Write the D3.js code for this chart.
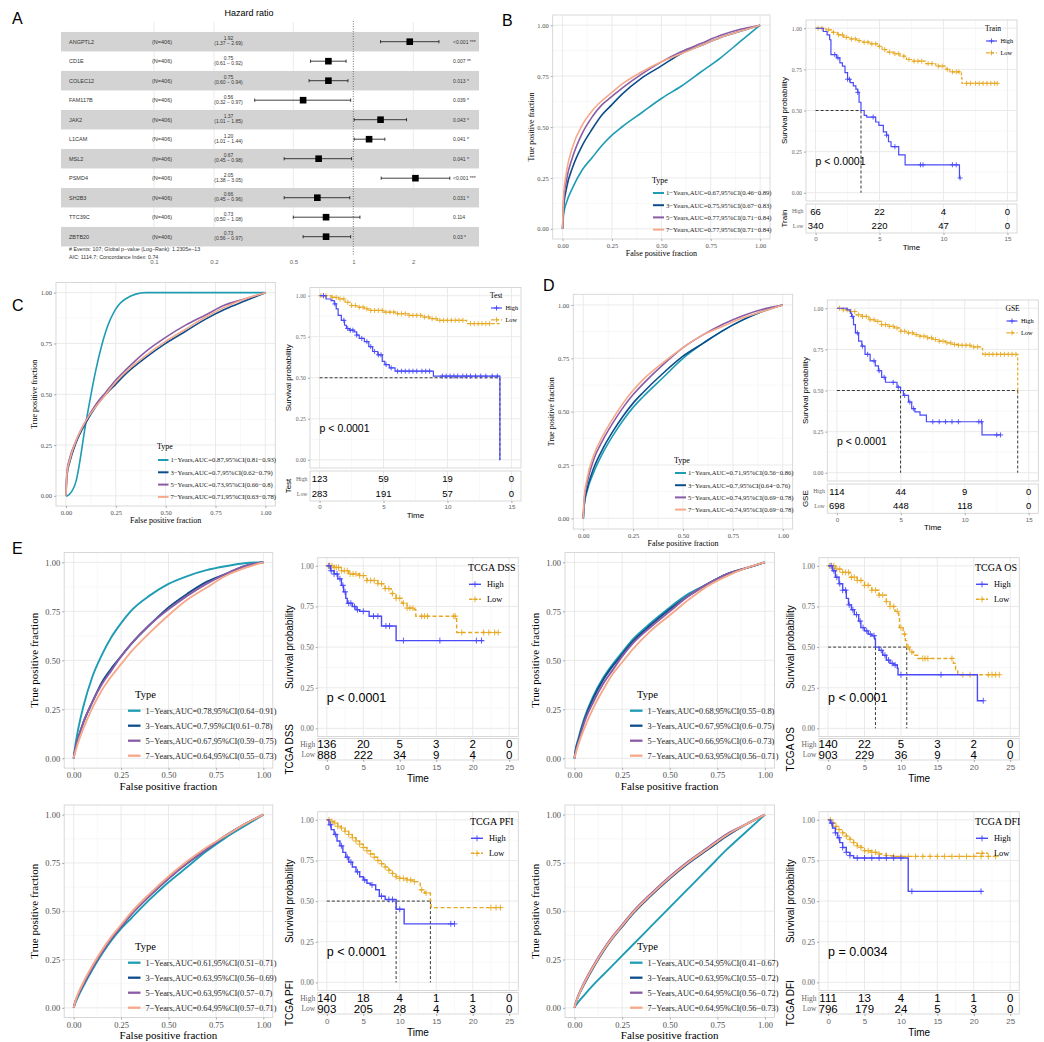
<!DOCTYPE html>
<html>
<head>
<meta charset="utf-8">
<script src="https://d3js.org/d3.v7.min.js"></script>
<style>
body { margin: 0; background: #fff; }
</style>
</head>
<body>
<script>
// ---------- A: multivariate cox forest ----------
var genes = ["ANGPTL2", "CD1E", "COLEC12", "FAM117B", "JAK2", "L1CAM", "MSL2", "PSMD4", "SH2B3", "TTC39C", "ZBTB20"];
var hr = [1.92, 0.75, 0.75, 0.56, 1.37, 1.20, 0.67, 2.05, 0.66, 0.73, 0.73];
var hrLow = [1.37, 0.61, 0.60, 0.32, 1.01, 1.01, 0.45, 1.38, 0.45, 0.50, 0.56];
var hrHigh = [2.69, 0.92, 0.94, 0.97, 1.85, 1.44, 0.98, 3.05, 0.96, 1.08, 0.97];
var hrP = ["<0.001 ***", "0.007 **", "0.013 *", "0.039 *", "0.043 *", "0.041 *", "0.041 *", "<0.001 ***", "0.031 *", "0.114", "0.03 *"];
var hrTicks = [0.1, 0.2, 0.5, 1, 2];
var forestNote = ["# Events: 107; Global p\u2212value (Log\u2212Rank): 1.2305e\u221213", "AIC: 1114.7; Concordance Index: 0.74"];

// ---------- ROC curves ----------
var rocYears = ["1\u2212Years", "3\u2212Years", "5\u2212Years", "7\u2212Years"];
var rocColors = ["#1d9cb3", "#0e4d8c", "#8b5ca6", "#f6a98a"];
var rocFpr = [0, 0.005, 0.02, 0.05, 0.1, 0.15, 0.2, 0.25, 0.3, 0.4, 0.5, 0.6, 0.7, 0.8, 0.9, 1];

var rocTrainTpr = [
    [0, 0.07, 0.13, 0.2, 0.29, 0.35, 0.41, 0.46, 0.5, 0.57, 0.64, 0.7, 0.77, 0.84, 0.92, 1],
    [0, 0.1, 0.2, 0.3, 0.41, 0.49, 0.56, 0.61, 0.66, 0.74, 0.8, 0.86, 0.9, 0.94, 0.97, 1],
    [0, 0.13, 0.24, 0.35, 0.47, 0.55, 0.61, 0.65, 0.69, 0.76, 0.82, 0.87, 0.91, 0.95, 0.98, 1],
    [0, 0.16, 0.28, 0.4, 0.51, 0.58, 0.63, 0.67, 0.71, 0.77, 0.82, 0.86, 0.9, 0.94, 0.97, 1]];
var rocTrainAuc = ["0.67", "0.75", "0.77", "0.77"];
var rocTrainCi = ["0.46\u22120.89", "0.67\u22120.83", "0.71\u22120.84", "0.71\u22120.84"];

var rocTestTpr = [
    [0, 0, 0.01, 0.07, 0.36, 0.62, 0.81, 0.92, 0.97, 1, 1, 1, 1, 1, 1, 1],
    [0, 0.1, 0.17, 0.26, 0.36, 0.44, 0.5, 0.55, 0.6, 0.68, 0.75, 0.81, 0.87, 0.92, 0.96, 1],
    [0, 0.12, 0.19, 0.27, 0.37, 0.45, 0.51, 0.57, 0.62, 0.71, 0.78, 0.84, 0.89, 0.94, 0.97, 1],
    [0, 0.11, 0.18, 0.27, 0.37, 0.44, 0.5, 0.56, 0.61, 0.69, 0.76, 0.82, 0.88, 0.93, 0.97, 1]];
var rocTestAuc = ["0.87", "0.7", "0.73", "0.71"];
var rocTestCi = ["0.81\u22120.93", "0.62\u22120.79", "0.66\u22120.8", "0.63\u22120.78"];

var rocGseTpr = [
    [0, 0.06, 0.13, 0.21, 0.31, 0.39, 0.46, 0.52, 0.57, 0.66, 0.75, 0.82, 0.88, 0.93, 0.97, 1],
    [0, 0.07, 0.14, 0.23, 0.33, 0.41, 0.48, 0.54, 0.59, 0.68, 0.76, 0.82, 0.88, 0.93, 0.97, 1],
    [0, 0.09, 0.17, 0.27, 0.37, 0.45, 0.52, 0.58, 0.63, 0.72, 0.8, 0.86, 0.91, 0.95, 0.98, 1],
    [0, 0.1, 0.19, 0.29, 0.39, 0.47, 0.54, 0.6, 0.65, 0.73, 0.8, 0.86, 0.9, 0.94, 0.97, 1]];
var rocGseAuc = ["0.71", "0.7", "0.74", "0.74"];
var rocGseCi = ["0.56\u22120.86", "0.64\u22120.76", "0.69\u22120.78", "0.69\u22120.78"];

var rocDssTpr = [
    [0, 0.04, 0.13, 0.26, 0.42, 0.53, 0.62, 0.69, 0.75, 0.83, 0.89, 0.93, 0.96, 0.98, 0.995, 1],
    [0, 0.03, 0.09, 0.18, 0.29, 0.39, 0.46, 0.52, 0.58, 0.68, 0.77, 0.84, 0.9, 0.94, 0.98, 1],
    [0, 0.03, 0.09, 0.18, 0.29, 0.38, 0.45, 0.52, 0.58, 0.68, 0.76, 0.83, 0.89, 0.94, 0.98, 1],
    [0, 0.02, 0.07, 0.15, 0.26, 0.35, 0.42, 0.48, 0.54, 0.64, 0.73, 0.81, 0.87, 0.93, 0.97, 1]];
var rocDssAuc = ["0.78", "0.7", "0.67", "0.64"];
var rocDssCi = ["0.64\u22120.91", "0.61\u22120.78", "0.59\u22120.75", "0.55\u22120.73"];

var rocOsTpr = [
    [0, 0.04, 0.1, 0.2, 0.32, 0.41, 0.48, 0.54, 0.6, 0.69, 0.77, 0.84, 0.89, 0.94, 0.97, 1],
    [0, 0.035, 0.09, 0.19, 0.31, 0.4, 0.47, 0.53, 0.59, 0.68, 0.76, 0.83, 0.89, 0.94, 0.97, 1],
    [0, 0.03, 0.08, 0.18, 0.29, 0.38, 0.45, 0.52, 0.58, 0.67, 0.75, 0.83, 0.89, 0.94, 0.97, 1],
    [0, 0.02, 0.07, 0.15, 0.26, 0.35, 0.43, 0.49, 0.55, 0.65, 0.73, 0.81, 0.88, 0.93, 0.97, 1]];
var rocOsAuc = ["0.68", "0.67", "0.66", "0.63"];
var rocOsCi = ["0.55\u22120.8", "0.6\u22120.75", "0.6\u22120.73", "0.56\u22120.71"];

var rocPfiTpr = [
    [0, 0.015, 0.05, 0.11, 0.2, 0.28, 0.35, 0.41, 0.46, 0.56, 0.65, 0.73, 0.81, 0.88, 0.94, 1],
    [0, 0.02, 0.06, 0.12, 0.21, 0.29, 0.36, 0.42, 0.48, 0.58, 0.67, 0.75, 0.82, 0.89, 0.95, 1],
    [0, 0.02, 0.06, 0.12, 0.21, 0.29, 0.36, 0.42, 0.48, 0.58, 0.67, 0.75, 0.82, 0.89, 0.95, 1],
    [0, 0.02, 0.065, 0.13, 0.22, 0.3, 0.37, 0.43, 0.49, 0.59, 0.68, 0.76, 0.83, 0.89, 0.95, 1]];
var rocPfiAuc = ["0.61", "0.63", "0.63", "0.64"];
var rocPfiCi = ["0.51\u22120.71", "0.56\u22120.69", "0.57\u22120.7", "0.57\u22120.71"];

var rocDfiTpr = [
    [0, 0.01, 0.03, 0.065, 0.12, 0.17, 0.22, 0.27, 0.32, 0.42, 0.52, 0.62, 0.72, 0.82, 0.91, 1],
    [0, 0.02, 0.06, 0.12, 0.21, 0.29, 0.36, 0.42, 0.48, 0.58, 0.67, 0.75, 0.82, 0.89, 0.95, 1],
    [0, 0.02, 0.065, 0.13, 0.22, 0.3, 0.37, 0.43, 0.49, 0.59, 0.68, 0.76, 0.83, 0.9, 0.95, 1],
    [0, 0.02, 0.06, 0.125, 0.215, 0.295, 0.365, 0.425, 0.485, 0.585, 0.675, 0.755, 0.825, 0.895, 0.95, 1]];
var rocDfiAuc = ["0.54", "0.63", "0.64", "0.64"];
var rocDfiCi = ["0.41\u22120.67", "0.55\u22120.72", "0.56\u22120.72", "0.56\u22120.73"];

// ---------- Kaplan-Meier curves: [time, survival from that time on] ----------
var kmColors = ["#4a4af8", "#e6a823"];

var trainHigh = [[0, 1], [0.6, 0.98], [0.9, 0.96], [1.1, 0.93], [1.2, 0.84], [1.65, 0.82], [1.9, 0.79], [2.1, 0.77], [2.3, 0.73], [2.5, 0.69], [2.7, 0.67], [2.95, 0.65], [3.15, 0.63], [3.3, 0.61], [3.4, 0.55], [3.55, 0.5], [3.8, 0.47], [4.0, 0.46], [4.7, 0.43], [4.95, 0.41], [5.3, 0.37], [5.55, 0.35], [5.7, 0.31], [5.9, 0.28], [6.5, 0.23], [7.0, 0.17], [11.25, 0.09], [11.3, 0.09]];
var trainLow = [[0, 1], [0.8, 0.99], [1.3, 0.975], [1.7, 0.96], [2.2, 0.945], [2.7, 0.935], [3.2, 0.925], [3.7, 0.915], [4.3, 0.905], [4.9, 0.89], [5.2, 0.87], [5.6, 0.855], [6.1, 0.845], [6.6, 0.83], [7.1, 0.81], [7.6, 0.8], [8.6, 0.785], [9.4, 0.77], [10.2, 0.75], [10.5, 0.735], [11.4, 0.7], [11.45, 0.665], [14.2, 0.665]];
var trainCensHigh = [1.5, 1.75, 2.5, 2.65, 3.3, 4.5, 5.55, 6.2, 8.2, 8.4, 10.7, 11.0, 11.3];
var trainCensLow = [0.2, 0.5, 1.0, 1.4, 1.8, 2.1, 2.4, 2.8, 3.1, 3.4, 3.8, 4.1, 4.4, 4.7, 5.0, 5.4, 5.8, 6.2, 6.5, 6.9, 7.3, 7.7, 8.0, 8.3, 8.8, 9.1, 9.6, 9.9, 10.3, 10.7, 11.0, 11.2, 11.8, 12.1, 12.5, 12.8, 13.1, 13.4, 13.7, 14.0, 14.2];
var trainRiskHigh = [66, 22, 4, 0];
var trainRiskLow = [340, 220, 47, 0];

var testHigh = [[0, 1], [0.5, 0.98], [0.9, 0.97], [1.15, 0.95], [1.3, 0.92], [1.45, 0.88], [1.7, 0.85], [1.95, 0.82], [2.1, 0.8], [2.35, 0.79], [2.7, 0.78], [2.9, 0.76], [3.1, 0.74], [3.5, 0.72], [3.85, 0.69], [4.15, 0.66], [4.55, 0.64], [4.9, 0.6], [5.1, 0.58], [5.45, 0.56], [5.9, 0.54], [8.9, 0.51], [14.1, 0], [14.12, 0]];
var testLow = [[0, 1], [0.9, 0.99], [1.5, 0.98], [2, 0.96], [2.5, 0.94], [3, 0.93], [3.5, 0.92], [4, 0.91], [5, 0.9], [6, 0.89], [7, 0.88], [8, 0.87], [8.6, 0.86], [9.2, 0.85], [11.5, 0.83], [14.1, 0.83]];
var testCensHigh = [0.3, 1.2, 1.9, 2.2, 2.4, 2.6, 2.9, 3.3, 3.7, 4.0, 4.3, 4.6, 4.8, 5.2, 5.6, 6.1, 6.4, 6.7, 7.0, 7.3, 7.6, 8.0, 8.3, 8.6, 9.6, 9.9, 10.2, 10.5, 10.8, 11.2, 11.5, 11.8, 12.2, 12.6, 13.0, 13.5, 13.9];
var testCensLow = [0.1, 0.3, 0.5, 1.0, 1.3, 1.6, 1.9, 2.2, 2.5, 2.8, 3.1, 3.4, 3.7, 4.0, 4.3, 4.6, 4.9, 5.2, 5.5, 5.8, 6.1, 6.4, 6.7, 7.0, 7.3, 7.6, 7.9, 8.2, 8.5, 8.8, 9.1, 9.4, 9.7, 10.0, 10.3, 10.6, 10.9, 11.2, 11.8, 12.1, 12.4, 12.7, 13.0, 13.3];
var testRiskHigh = [123, 59, 19, 0];
var testRiskLow = [283, 191, 57, 0];

var gseHigh = [[0, 1], [0.8, 0.99], [1.05, 0.97], [1.15, 0.95], [1.3, 0.9], [1.45, 0.85], [1.7, 0.8], [1.95, 0.77], [2.2, 0.72], [2.6, 0.68], [3.0, 0.65], [3.25, 0.62], [3.5, 0.58], [3.8, 0.55], [4.7, 0.52], [4.98, 0.5], [5.2, 0.47], [5.6, 0.43], [5.85, 0.39], [6.1, 0.37], [6.5, 0.35], [7.0, 0.31], [11.35, 0.23], [12.8, 0.23]];
var gseLow = [[0, 1], [0.5, 0.99], [1, 0.98], [1.5, 0.96], [2, 0.95], [2.5, 0.93], [3, 0.92], [3.5, 0.9], [4, 0.89], [4.5, 0.88], [5, 0.86], [5.5, 0.85], [6, 0.84], [6.5, 0.83], [7, 0.82], [7.5, 0.81], [8, 0.8], [8.5, 0.79], [9, 0.78], [9.5, 0.775], [10.5, 0.765], [11.3, 0.755], [11.4, 0.72], [14.14, 0.485], [14.2, 0.485]];
var gseCensHigh = [1.2, 1.6, 2.0, 2.4, 2.9, 3.3, 3.7, 4.4, 4.8, 5.3, 5.7, 6.0, 7.5, 8.0, 8.5, 9.0, 9.5, 11.1, 11.3, 12.5, 12.8];
var gseCensLow = [0.2, 0.5, 0.8, 1.1, 1.4, 1.7, 2.0, 2.3, 2.6, 2.9, 3.2, 3.5, 3.8, 4.1, 4.4, 4.7, 5.0, 5.3, 5.6, 5.9, 6.2, 6.5, 6.8, 7.1, 7.4, 7.7, 8.0, 8.3, 8.6, 8.9, 9.2, 9.5, 9.8, 10.1, 10.4, 10.7, 11.0, 11.6, 11.9, 12.2, 12.5, 12.8, 13.1, 13.4, 13.7, 14.0];
var gseRiskHigh = [114, 44, 9, 0];
var gseRiskLow = [698, 448, 118, 0];

var dssHigh = [[0, 1], [0.5, 0.97], [1, 0.95], [1.5, 0.92], [2, 0.88], [2.3, 0.84], [2.6, 0.8], [2.8, 0.77], [3.5, 0.75], [4, 0.73], [4.5, 0.72], [5.8, 0.69], [7.5, 0.63], [9.5, 0.54], [21.5, 0.54]];
var dssLow = [[0, 1], [1, 0.99], [2, 0.97], [3, 0.95], [4.5, 0.94], [5.5, 0.91], [7, 0.89], [8, 0.86], [8.8, 0.83], [9.5, 0.8], [10.3, 0.77], [11, 0.74], [12, 0.73], [12.2, 0.69], [17.8, 0.59], [23.5, 0.59]];
var dssCensHigh = [0.3, 0.6, 1.0, 1.4, 1.8, 2.2, 2.5, 3.0, 3.3, 3.8, 4.2, 5.0, 6.4, 7.0, 8.1, 8.6, 10.5, 15.5, 20.5, 21.2];
var dssCensLow = [0.2, 0.4, 0.7, 1.0, 1.3, 1.6, 2.0, 2.4, 2.8, 3.2, 3.6, 4.0, 4.5, 5.0, 5.5, 6.0, 6.5, 7.0, 7.5, 8.0, 8.5, 9.0, 9.5, 10.0, 10.5, 11.0, 11.4, 11.8, 13.0, 13.4, 13.8, 17.4, 17.6, 18.5, 21.5, 22.2, 23.0, 23.5];
var dssRiskHigh = [136, 20, 5, 3, 2, 0];
var dssRiskLow = [888, 222, 34, 9, 4, 0];

var osHigh = [[0, 1], [0.6, 0.97], [1, 0.93], [1.5, 0.89], [2, 0.85], [2.5, 0.8], [2.8, 0.76], [3.2, 0.73], [3.6, 0.7], [4.2, 0.66], [4.5, 0.62], [5, 0.6], [5.5, 0.58], [6, 0.57], [6.4, 0.55], [6.5, 0.5], [7, 0.48], [7.5, 0.45], [8, 0.42], [8.5, 0.4], [9, 0.39], [9.5, 0.37], [9.6, 0.33], [20.5, 0.17], [21.3, 0.17]];
var osLow = [[0, 1], [1, 0.98], [2, 0.96], [3, 0.93], [4, 0.91], [5, 0.88], [6, 0.85], [7, 0.82], [8, 0.78], [8.5, 0.75], [9.2, 0.72], [9.7, 0.69], [9.8, 0.62], [10.3, 0.58], [10.6, 0.54], [10.8, 0.5], [11.2, 0.47], [11.7, 0.45], [12.3, 0.43], [17.2, 0.4], [17.5, 0.36], [17.8, 0.33], [23.5, 0.33]];
var osCensHigh = [0.4, 0.8, 1.2, 1.6, 2.0, 2.4, 2.9, 3.4, 3.9, 4.4, 4.8, 5.3, 5.8, 6.3, 7.3, 7.8, 8.3, 8.8, 9.2, 10.0, 15.5, 21.3];
var osCensLow = [0.2, 0.5, 0.8, 1.2, 1.6, 2.0, 2.4, 2.8, 3.2, 3.6, 4.0, 4.5, 5.0, 5.5, 6.0, 6.5, 7.0, 7.5, 8.0, 8.5, 9.0, 9.5, 10.0, 10.5, 11.0, 11.5, 13.0, 13.3, 13.7, 17.0, 18.5, 19.5, 22.0, 22.5, 23.0, 23.5];
var osRiskHigh = [140, 22, 5, 3, 2, 0];
var osRiskLow = [903, 229, 36, 9, 4, 0];

var pfiHigh = [[0, 1], [0.3, 0.97], [0.6, 0.94], [1, 0.91], [1.4, 0.87], [1.8, 0.84], [2.2, 0.8], [2.6, 0.77], [3, 0.74], [3.5, 0.71], [4, 0.68], [4.5, 0.65], [5, 0.63], [5.5, 0.61], [6, 0.6], [6.7, 0.57], [7.2, 0.53], [8, 0.51], [9.5, 0.45], [10.6, 0.36], [17.5, 0.36]];
var pfiLow = [[0, 1], [0.5, 0.99], [1, 0.98], [1.5, 0.96], [2, 0.95], [2.5, 0.93], [3, 0.91], [3.5, 0.89], [4, 0.87], [4.5, 0.85], [5, 0.83], [5.5, 0.81], [6, 0.79], [6.5, 0.77], [7, 0.75], [7.5, 0.73], [8, 0.71], [8.5, 0.69], [9, 0.67], [9.5, 0.65], [10, 0.64], [11, 0.63], [12, 0.62], [12.8, 0.57], [13.4, 0.55], [14.2, 0.5], [14.3, 0.46], [23.8, 0.46]];
var pfiCensHigh = [0.5, 1.2, 2.0, 2.8, 3.3, 4.2, 5.2, 6.2, 7.5, 8.5, 9.0, 10.0, 17.0, 17.5];
var pfiCensLow = [0.3, 0.7, 1.1, 1.5, 2.0, 2.5, 3.0, 3.5, 4.0, 4.5, 5.0, 5.5, 6.0, 6.5, 7.0, 7.5, 8.0, 8.5, 9.0, 9.5, 10.0, 10.5, 11.0, 11.5, 12.0, 13.0, 13.6, 22.5, 23.2, 23.8];
var pfiRiskHigh = [140, 18, 4, 1, 1, 0];
var pfiRiskLow = [903, 205, 28, 4, 3, 0];

var dfiHigh = [[0, 1], [0.3, 0.98], [0.6, 0.95], [1, 0.92], [1.3, 0.89], [1.6, 0.86], [2, 0.83], [2.5, 0.8], [3, 0.78], [3.5, 0.765], [11.0, 0.56], [21.2, 0.56]];
var dfiLow = [[0, 1], [0.5, 0.98], [1, 0.96], [1.5, 0.94], [2, 0.92], [2.5, 0.9], [3, 0.88], [3.5, 0.86], [4, 0.84], [4.5, 0.83], [5, 0.81], [6, 0.8], [7, 0.79], [8, 0.78], [9, 0.775], [23, 0.775]];
var dfiCensHigh = [0.5, 1.0, 1.5, 2.0, 2.5, 3.0, 4.0, 5.0, 6.0, 7.0, 8.0, 9.0, 10.0, 11.5, 21.0];
var dfiCensLow = [0.3, 0.7, 1.1, 1.5, 2.0, 2.5, 3.0, 3.5, 4.0, 4.5, 5.0, 5.5, 6.0, 6.5, 7.0, 8.0, 9.0, 10.0, 11.0, 12.0, 13.0, 14.0, 15.0, 16.0, 17.0, 18.0, 19.0, 20.0, 21.0, 22.0, 23.0];
var dfiRiskHigh = [111, 13, 4, 1, 1, 0];
var dfiRiskLow = [796, 179, 24, 5, 3, 0];

var SANS = "'Liberation Sans', Arial, sans-serif";
var SERIF = "'Liberation Serif', 'Times New Roman', serif";

var svg = d3.select("body").append("svg")
    .attr("width", 1044)
    .attr("height", 1042)
    .style("background", "#fff");

//Panel letters
[["A", 12, 24], ["B", 502, 26], ["C", 12, 311], ["D", 543, 291], ["E", 12, 554]].forEach(function (d) {
    svg.append("text").attr("x", d[1]).attr("y", d[2])
        .style("font-family", SANS).style("font-size", "16px").text(d[0]);
});

//Forest plot
function drawForest() {
    var g = svg.append("g");
    var rowY = d3.scaleLinear().domain([0, genes.length - 1]).range([41.7, 236.7]);
    var xHR = d3.scaleLog().domain([0.1, 1]).range([154, 353.3]);
    var band = rowY(1) - rowY(0);

    g.append("text").attr("x", 249).attr("y", 16).attr("text-anchor", "middle")
        .style("font-family", SANS).style("font-size", "9px").text("Hazard ratio");

    //grid lines
    hrTicks.filter(function (d) { return d != 1; }).forEach(function (t) {
        g.append("line").attr("x1", xHR(t)).attr("x2", xHR(t)).attr("y1", 22).attr("y2", 246)
            .attr("stroke", "#e6e6e6").attr("stroke-width", 0.8);
    });

    //alternating bands
    genes.forEach(function (d, i) {
        if (i % 2 == 0) {
            g.append("rect").attr("x", 61).attr("width", 418)
                .attr("y", rowY(i) - band / 2).attr("height", band)
                .attr("fill", "#d3d3d3");
        }
    });

    g.append("line").attr("x1", xHR(1)).attr("x2", xHR(1)).attr("y1", 21).attr("y2", 255)
        .attr("stroke", "#555").attr("stroke-width", 0.8).attr("stroke-dasharray", "1,1.5");

    genes.forEach(function (d, i) {
        var y = rowY(i);
        g.append("text").attr("x", 69).attr("y", y + 2).style("font-family", SANS).style("font-size", "5.5px").attr("fill", "#333").text(d);
        g.append("text").attr("x", 152).attr("y", y + 2).style("font-family", SANS).style("font-size", "5.5px").attr("fill", "#333").text("(N=406)");
        g.append("text").attr("x", 228.5).attr("y", y - 1.6).attr("text-anchor", "middle").style("font-family", SANS).style("font-size", "5px").attr("fill", "#333").text(hr[i].toFixed(2));
        g.append("text").attr("x", 228.5).attr("y", y + 3.6).attr("text-anchor", "middle").style("font-family", SANS).style("font-size", "5px").attr("fill", "#333")
            .text("(" + hrLow[i].toFixed(2) + " \u2212 " + hrHigh[i].toFixed(2) + ")");
        //CI whisker
        g.append("line").attr("x1", xHR(hrLow[i])).attr("x2", xHR(hrHigh[i])).attr("y1", y).attr("y2", y).attr("stroke", "#111").attr("stroke-width", 0.8);
        [hrLow[i], hrHigh[i]].forEach(function (v) {
            g.append("line").attr("x1", xHR(v)).attr("x2", xHR(v)).attr("y1", y - 1.6).attr("y2", y + 1.6).attr("stroke", "#111").attr("stroke-width", 0.8);
        });
        g.append("rect").attr("x", xHR(hr[i]) - 3.3).attr("y", y - 3.3).attr("width", 6.6).attr("height", 6.6).attr("fill", "#000");
        g.append("text").attr("x", 453).attr("y", y + 2).style("font-family", SANS).style("font-size", "5px").attr("fill", "#333").text(hrP[i]);
    });

    forestNote.forEach(function (t, i) {
        g.append("text").attr("x", 69).attr("y", 251 + i * 7.5).style("font-family", SANS).style("font-size", "5.3px").attr("fill", "#333").text(t);
    });

    //axis
    var ax = g.append("g").attr("transform", "translate(0,257)")
        .call(d3.axisBottom(xHR).tickValues(hrTicks).tickSize(0).tickFormat(d3.format("")));
    ax.select(".domain").remove();
    ax.selectAll("text").style("font-family", SANS).style("font-size", "6px").attr("fill", "#666");
}

//ROC panel
function drawROC(o) {
    var big = o.big;
    var fs = big ? { tick: 8.5, title: 11, legT: 10.5, leg: 8.3, lw: 1.9 } : { tick: 6.5, title: 8, legT: 8, leg: 6.7, lw: 1.6 };
    var l = o.box[0], t = o.box[1], r = o.box[2], b = o.box[3];
    var x = d3.scaleLinear().domain([-0.05, 1.05]).range([l, r]);
    var y = d3.scaleLinear().domain([-0.05, 1.05]).range([b, t]);
    var g = svg.append("g");
    var major = [0, 0.25, 0.5, 0.75, 1], minor = [0.125, 0.375, 0.625, 0.875];

    g.append("rect").attr("x", l).attr("y", t).attr("width", r - l).attr("height", b - t).attr("fill", "#fff");
    minor.forEach(function (v) {
        g.append("line").attr("x1", x(v)).attr("x2", x(v)).attr("y1", t).attr("y2", b).attr("stroke", "#f3f3f3").attr("stroke-width", 0.6);
        g.append("line").attr("y1", y(v)).attr("y2", y(v)).attr("x1", l).attr("x2", r).attr("stroke", "#f3f3f3").attr("stroke-width", 0.6);
    });
    major.forEach(function (v) {
        g.append("line").attr("x1", x(v)).attr("x2", x(v)).attr("y1", t).attr("y2", b).attr("stroke", "#e8e8e8").attr("stroke-width", 0.9);
        g.append("line").attr("y1", y(v)).attr("y2", y(v)).attr("x1", l).attr("x2", r).attr("stroke", "#e8e8e8").attr("stroke-width", 0.9);
    });

    var line = d3.line()
        .x(function (d) { return x(d[0]); })
        .y(function (d) { return y(d[1]); })
        .curve(d3.curveMonotoneX);

    o.tpr.forEach(function (arr, k) {
        var pts = rocFpr.map(function (f, j) { return [f, arr[j]]; });
        g.append("path").attr("d", line(pts)).attr("fill", "none")
            .attr("stroke", rocColors[k]).attr("stroke-width", fs.lw);
    });

    g.append("rect").attr("x", l).attr("y", t).attr("width", r - l).attr("height", b - t)
        .attr("fill", "none").attr("stroke", "#d4d4d4").attr("stroke-width", 0.9);

    var xa = g.append("g").attr("transform", "translate(0," + b + ")")
        .call(d3.axisBottom(x).tickValues(major).tickSize(2).tickPadding(2).tickFormat(d3.format(".2f")));
    var ya = g.append("g").attr("transform", "translate(" + l + ",0)")
        .call(d3.axisLeft(y).tickValues(major).tickSize(2).tickPadding(2).tickFormat(d3.format(".2f")));
    [xa, ya].forEach(function (a) {
        a.select(".domain").remove();
        a.selectAll("line").attr("stroke", "#aaa");
        a.selectAll("text").style("font-family", SERIF).style("font-size", fs.tick + "px").attr("fill", "#4d4d4d");
    });

    g.append("text").attr("x", (l + r) / 2).attr("y", b + (big ? 21.5 : 17)).attr("text-anchor", "middle")
        .style("font-family", SERIF).style("font-size", fs.title + "px").text("False positive fraction");
    g.append("text").attr("transform", "translate(" + (l - (big ? 26 : 19)) + "," + ((t + b) / 2) + ") rotate(-90)")
        .attr("text-anchor", "middle").style("font-family", SERIF).style("font-size", fs.title + "px").text("True positive fraction");

    //legend
    var lg = o.leg;
    g.append("text").attr("x", lg.x).attr("y", lg.y).attr("dy", "0.35em")
        .style("font-family", SERIF).style("font-size", fs.legT + "px").text("Type");
    rocYears.forEach(function (yr, k) {
        var yy = lg.y + lg.first + k * lg.dy;
        g.append("line").attr("x1", lg.x + lg.lx0).attr("x2", lg.x + lg.lx1).attr("y1", yy).attr("y2", yy)
            .attr("stroke", rocColors[k]).attr("stroke-width", fs.lw + 0.4);
        g.append("text").attr("x", lg.x + lg.tx).attr("y", yy).attr("dy", "0.35em")
            .style("font-family", SERIF).style("font-size", fs.leg + "px").attr("fill", "#222")
            .text(yr + ",AUC=" + o.auc[k] + ",95%CI(" + o.ci[k] + ")");
    });
}

function stepAt(curve, t) {
    var s = curve[0][1];
    curve.forEach(function (p) { if (p[0] <= t) s = p[1]; });
    return s;
}

//Kaplan-Meier panel with risk table
function drawKM(o) {
    var big = o.big;
    var fs = big ? { ytick: 7.5, xtick: 8, title: 10, risk: 11.5, rlab: 7.5, p: 12.5, legT: 10, leg: 8.3, lw: 1.4, cs: 3 }
        : { ytick: 5.8, xtick: 6.2, title: 8, risk: 9.5, rlab: 5.8, p: 10.5, legT: 7.5, leg: 6.3, lw: 1.2, cs: 2.5 };
    var l = o.box[0], t = o.box[1], r = o.box[2], b = o.box[3];
    var tt = o.tab[0], tb = o.tab[1];
    var x = d3.scaleLinear().domain([-0.05 * o.xmax, 1.05 * o.xmax]).range([l, r]);
    var y = d3.scaleLinear().domain([-0.05, 1.05]).range([b, t]);
    var xt = d3.range(0, o.xmax + 0.001, o.xstep);
    var xm = d3.range(o.xstep / 2, o.xmax, o.xstep);
    var g = svg.append("g");

    //survival panel grid
    [0.125, 0.375, 0.625, 0.875].forEach(function (v) {
        g.append("line").attr("y1", y(v)).attr("y2", y(v)).attr("x1", l).attr("x2", r).attr("stroke", "#f3f3f3").attr("stroke-width", 0.6);
    });
    [tb, b].forEach(function (bot, k) {
        var top = k == 0 ? tt : t;
        xm.forEach(function (v) {
            g.append("line").attr("x1", x(v)).attr("x2", x(v)).attr("y1", top).attr("y2", bot).attr("stroke", "#f3f3f3").attr("stroke-width", 0.6);
        });
        xt.forEach(function (v) {
            g.append("line").attr("x1", x(v)).attr("x2", x(v)).attr("y1", top).attr("y2", bot).attr("stroke", "#e8e8e8").attr("stroke-width", 0.9);
        });
    });
    [0, 0.25, 0.5, 0.75, 1].forEach(function (v) {
        g.append("line").attr("y1", y(v)).attr("y2", y(v)).attr("x1", l).attr("x2", r).attr("stroke", "#e8e8e8").attr("stroke-width", 0.9);
    });

    //median lines
    if (o.medians.length) {
        var mx = d3.max(o.medians);
        g.append("line").attr("x1", x(0)).attr("x2", x(mx)).attr("y1", y(0.5)).attr("y2", y(0.5))
            .attr("stroke", "#222").attr("stroke-width", 0.9).attr("stroke-dasharray", "3,2");
        o.medians.forEach(function (m) {
            g.append("line").attr("x1", x(m)).attr("x2", x(m)).attr("y1", y(0.5)).attr("y2", y(0))
                .attr("stroke", "#222").attr("stroke-width", 0.9).attr("stroke-dasharray", "3,2");
        });
    }

    var line = d3.line()
        .x(function (d) { return x(d[0]); })
        .y(function (d) { return y(d[1]); })
        .curve(d3.curveStepAfter);

    var cross = "M" + (-fs.cs) + ",0H" + fs.cs + "M0," + (-fs.cs) + "V" + fs.cs;
    [[o.low, o.cLow, kmColors[1], big ? "4,2.5" : "3,2"], [o.high, o.cHigh, kmColors[0], null]].forEach(function (s) {
        var p = g.append("path").attr("d", line(s[0])).attr("fill", "none")
            .attr("stroke", s[2]).attr("stroke-width", fs.lw);
        if (s[3]) p.attr("stroke-dasharray", s[3]);
        s[1].forEach(function (c) {
            g.append("path").attr("d", cross)
                .attr("transform", "translate(" + x(c) + "," + y(stepAt(s[0], c)) + ")")
                .attr("stroke", s[2]).attr("stroke-width", 0.9).attr("fill", "none");
        });
    });

    g.append("rect").attr("x", l).attr("y", t).attr("width", r - l).attr("height", b - t)
        .attr("fill", "none").attr("stroke", "#d4d4d4").attr("stroke-width", 0.9);

    var ya = g.append("g").attr("transform", "translate(" + l + ",0)")
        .call(d3.axisLeft(y).tickValues([0, 0.25, 0.5, 0.75, 1]).tickSize(2).tickPadding(2).tickFormat(d3.format(".2f")));
    ya.select(".domain").remove();
    ya.selectAll("line").attr("stroke", "#aaa");
    ya.selectAll("text").style("font-family", SERIF).style("font-size", fs.ytick + "px").attr("fill", "#666");

    g.append("text").attr("transform", "translate(" + o.ytx + "," + ((t + b) / 2) + ") rotate(-90)")
        .attr("text-anchor", "middle").attr("dy", "0.35em").style("font-family", SANS).style("font-size", fs.title + "px").text("Survival probability");

    //p value
    g.append("text").attr("x", x(0)).attr("y", y(0.19)).attr("dy", "0.35em")
        .style("font-family", SANS).style("font-size", fs.p + "px").text(o.p);

    //legend
    var lg = o.leg;
    g.append("text").attr("x", lg.x).attr("y", lg.y).attr("dy", "0.35em")
        .style("font-family", SERIF).style("font-size", fs.legT + "px").text(o.name);
    [["High", kmColors[0], null], ["Low", kmColors[1], "3,2"]].forEach(function (d, k) {
        var yy = lg.y + lg.first + k * lg.dy;
        var ln = g.append("line").attr("x1", lg.x + lg.lx0).attr("x2", lg.x + lg.lx1).attr("y1", yy).attr("y2", yy)
            .attr("stroke", d[1]).attr("stroke-width", fs.lw);
        if (d[2]) ln.attr("stroke-dasharray", d[2]);
        g.append("path").attr("d", cross).attr("transform", "translate(" + (lg.x + (lg.lx0 + lg.lx1) / 2) + "," + yy + ")")
            .attr("stroke", d[1]).attr("stroke-width", 0.9);
        g.append("text").attr("x", lg.x + lg.tx).attr("y", yy).attr("dy", "0.35em")
            .style("font-family", SERIF).style("font-size", fs.leg + "px").text(d[0]);
    });

    //risk table
    g.append("rect").attr("x", l).attr("y", tt).attr("width", r - l).attr("height", tb - tt)
        .attr("fill", "none").attr("stroke", "#d4d4d4").attr("stroke-width", 0.9);
    var rowY = d3.scalePoint().domain(["High", "Low"]).range([tt, tb]).padding(0.5);
    [["High", o.nHigh], ["Low", o.nLow]].forEach(function (row) {
        row[1].forEach(function (n, i) {
            g.append("text").attr("x", x(xt[i])).attr("y", rowY(row[0])).attr("dy", "0.36em").attr("text-anchor", "middle")
                .style("font-family", SANS).style("font-size", fs.risk + "px").text(n);
        });
        g.append("text").attr("x", l - 2.5).attr("y", rowY(row[0])).attr("dy", "0.35em").attr("text-anchor", "end")
            .style("font-family", SERIF).style("font-size", fs.rlab + "px").attr("fill", "#666").text(row[0]);
    });
    g.append("text").attr("transform", "translate(" + o.ytx + "," + ((tt + tb) / 2) + ") rotate(-90)")
        .attr("text-anchor", "middle").attr("dy", "0.35em").style("font-family", SANS).style("font-size", fs.title + "px").text(o.name);

    var xa = g.append("g").attr("transform", "translate(0," + tb + ")")
        .call(d3.axisBottom(x).tickValues(xt).tickSize(2).tickPadding(2));
    xa.select(".domain").remove();
    xa.selectAll("line").attr("stroke", "#aaa");
    xa.selectAll("text").style("font-family", SANS).style("font-size", fs.xtick + "px").attr("fill", "#666");
    g.append("text").attr("x", (l + r) / 2).attr("y", tb + (big ? 18 : 14)).attr("dy", "0.35em").attr("text-anchor", "middle")
        .style("font-family", SANS).style("font-size", fs.title + "px").text("Time");
}

drawForest();

var smallLeg = { first: 13, dy: 12.2, lx0: 1, lx1: 12, tx: 14 };
var bigLeg = { first: 16.7, dy: 15, lx0: -7, lx1: 5.5, tx: 10.5 };

drawROC({ box: [552.7, 15, 770, 239], tpr: rocTrainTpr, auc: rocTrainAuc, ci: rocTrainCi, leg: Object.assign({ x: 652, y: 180 }, smallLeg) });
drawROC({ box: [56, 282.5, 275.3, 506], tpr: rocTestTpr, auc: rocTestAuc, ci: rocTestCi, leg: Object.assign({ x: 157, y: 446, first: 14, dy: 12.3, lx0: 1, lx1: 11.5, tx: 13.5 }) });
drawROC({ box: [573.3, 294.3, 792.7, 529], tpr: rocGseTpr, auc: rocGseAuc, ci: rocGseCi, leg: Object.assign({ x: 674, y: 460 }, smallLeg) });
drawROC({ box: [64.2, 552.5, 272.8, 768.1], tpr: rocDssTpr, auc: rocDssAuc, ci: rocDssCi, big: true, leg: Object.assign({ x: 135, y: 694 }, bigLeg) });
drawROC({ box: [565, 552.5, 774.5, 768.1], tpr: rocOsTpr, auc: rocOsAuc, ci: rocOsCi, big: true, leg: Object.assign({ x: 637, y: 694 }, bigLeg) });
drawROC({ box: [64.2, 805, 272.8, 1017.5], tpr: rocPfiTpr, auc: rocPfiAuc, ci: rocPfiCi, big: true, leg: Object.assign({ x: 135, y: 946 }, bigLeg) });
drawROC({ box: [565, 805, 774.5, 1017.5], tpr: rocDfiTpr, auc: rocDfiAuc, ci: rocDfiCi, big: true, leg: Object.assign({ x: 637, y: 946 }, bigLeg) });

var kmLegS = { first: 13, dy: 11.8, lx0: 1, lx1: 12, tx: 15.5 };
var kmLegB = { first: 16.6, dy: 15, lx0: 1, lx1: 13, tx: 19 };

drawKM({ box: [806, 20, 1017, 201], tab: [204, 233], xmax: 15, xstep: 5, high: trainHigh, low: trainLow, cHigh: trainCensHigh, cLow: trainCensLow,
    nHigh: trainRiskHigh, nLow: trainRiskLow, name: "Train", p: "p < 0.0001", medians: [3.55], ytx: 784, leg: Object.assign({ x: 985, y: 28 }, kmLegS) });
drawKM({ box: [310, 287.5, 521, 468], tab: [471, 501], xmax: 15, xstep: 5, high: testHigh, low: testLow, cHigh: testCensHigh, cLow: testCensLow,
    nHigh: testRiskHigh, nLow: testRiskLow, name: "Test", p: "p < 0.0001", medians: [14.1], ytx: 288, leg: Object.assign({ x: 490, y: 295 }, kmLegS) });
drawKM({ box: [827.3, 300, 1038.3, 481], tab: [484, 513.3], xmax: 15, xstep: 5, high: gseHigh, low: gseLow, cHigh: gseCensHigh, cLow: gseCensLow,
    nHigh: gseRiskHigh, nLow: gseRiskLow, name: "GSE", p: "p < 0.0001", medians: [4.98, 14.14], ytx: 805, leg: Object.assign({ x: 1005.5, y: 308 }, kmLegS) });

drawKM({ box: [317.7, 557.7, 518.3, 736.5], tab: [738.5, 760], xmax: 25, xstep: 5, high: dssHigh, low: dssLow, cHigh: dssCensHigh, cLow: dssCensLow,
    nHigh: dssRiskHigh, nLow: dssRiskLow, name: "TCGA DSS", p: "p < 0.0001", medians: [], ytx: 289, big: true, leg: Object.assign({ x: 468, y: 567.7 }, kmLegB) });
drawKM({ box: [819, 557.7, 1019.3, 736.5], tab: [738.5, 760], xmax: 25, xstep: 5, high: osHigh, low: osLow, cHigh: osCensHigh, cLow: osCensLow,
    nHigh: osRiskHigh, nLow: osRiskLow, name: "TCGA OS", p: "p < 0.0001", medians: [6.5, 10.8], ytx: 790, big: true, leg: Object.assign({ x: 975, y: 567.7 }, kmLegB) });
drawKM({ box: [317.7, 811.7, 518.3, 990.5], tab: [992.5, 1014], xmax: 25, xstep: 5, high: pfiHigh, low: pfiLow, cHigh: pfiCensHigh, cLow: pfiCensLow,
    nHigh: pfiRiskHigh, nLow: pfiRiskLow, name: "TCGA PFI", p: "p < 0.0001", medians: [9.5, 14.2], ytx: 289, big: true, leg: Object.assign({ x: 470, y: 821.7 }, kmLegB) });
drawKM({ box: [819, 811.7, 1019.3, 990.5], tab: [992.5, 1014], xmax: 25, xstep: 5, high: dfiHigh, low: dfiLow, cHigh: dfiCensHigh, cLow: dfiCensLow,
    nHigh: dfiRiskHigh, nLow: dfiRiskLow, name: "TCGA DFI", p: "p = 0.0034", medians: [], ytx: 790, big: true, leg: Object.assign({ x: 975, y: 821.7 }, kmLegB) });
</script>
</body>
</html>
